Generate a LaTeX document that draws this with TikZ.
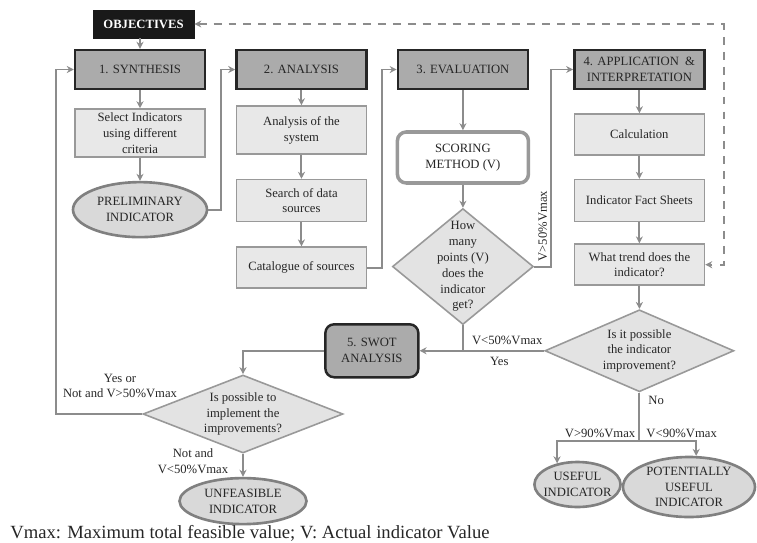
\documentclass[tikz,border=0pt]{standalone}
\usepackage{fontspec}
\setmainfont{Liberation Serif}
\usetikzlibrary{shapes.geometric, arrows.meta, positioning, calc}

\tikzset{
	every node/.style={font=\fontsize{7.2}{9}\selectfont, text=black!85},
	head/.style={draw=black!85, line width=1.4pt, fill=black!33,
		minimum width=2.6cm, minimum height=0.78cm, align=center, inner sep=1pt},
	stepbox/.style={draw=black!40, line width=0.9pt, fill=black!9,
		minimum width=2.6cm, minimum height=0.82cm, align=center, inner sep=1pt},
	result/.style={ellipse, draw=black!50, line width=1.5pt, fill=black!15,
		align=center, inner sep=0pt},
	decision/.style={diamond, draw=black!40, line width=0.9pt, fill=black!11, inner sep=0pt},
	dtext/.style={align=center, inner sep=0pt},
	lbl/.style={inner sep=1pt, align=center},
	arr/.style={draw=black!45, line width=1.1pt, -{Stealth[length=4pt,width=4pt]}},
	conn/.style={draw=black!45, line width=1.1pt},
	feedback/.style={draw=black!45, line width=1.1pt, dash pattern=on 4.5pt off 4pt,
		{Stealth[length=4pt,width=4pt]}-{Stealth[length=4pt,width=4pt]}},
}

\begin{document}
\begin{tikzpicture}
	\useasboundingbox (0,0) rectangle (15.14,-10.84);
	% phase headers
	\node[fill=black!90, draw=black!90, text=white,
	font=\fontsize{7.2}{9}\selectfont\bfseries,
	minimum width=2.02cm, minimum height=0.56cm] (obj) at (2.87,-0.48) {OBJECTIVES};
	\node[head] (synth) at (2.8,-1.39) {1. SYNTHESIS};
	\node[head, right=0.58cm of synth] (analysis) {2. ANALYSIS};
	\node[head, right=0.58cm of analysis] (evaluation) {3. EVALUATION};
	\node[head, right=0.88cm of evaluation] (app) {4. APPLICATION \ \&\\INTERPRETATION};
	
	% synthesis column
	\node[stepbox, below=0.36cm of synth, minimum height=0.96cm] (select) {Select Indicators\\using different\\criteria};
	\node[result, below=0.46cm of select,
	minimum width=2.68cm, minimum height=1.1cm] (prelim) {PRELIMINARY\\INDICATOR};
	
	% analysis column
	\node[stepbox, below=0.3cm of analysis, minimum height=0.96cm] (sysan) {Analysis of the\\system};
	\node[stepbox, below=0.48cm of sysan, minimum height=0.84cm] (search) {Search of data\\sources};
	\node[stepbox, below=0.48cm of search] (catalogue) {Catalogue of sources};
	
	% evaluation column
	\node[draw=black!40, line width=2pt, rounded corners=5pt, fill=white,
	minimum width=2.62cm, minimum height=1.02cm, align=center,
	below=0.8cm of evaluation] (scoring) {SCORING\\METHOD (V)};
	\node[decision, below=0.46cm of scoring,
	minimum width=2.82cm, minimum height=2.32cm] (dpoints) {};
	\node[dtext] (tpoints) at (dpoints) {How\\many\\points (V)\\does the\\indicator\\get?};
	
	% application column
	\node[stepbox, below=0.46cm of app] (calc) {Calculation};
	\node[stepbox, below=0.46cm of calc, minimum height=0.84cm] (facts) {Indicator Fact Sheets};
	\node[stepbox, below=0.42cm of facts] (trend) {What trend does the\\indicator?};
	\node[decision, below=0.46cm of trend,
	minimum width=3.78cm, minimum height=1.64cm] (dimprove) {};
	\node[dtext] (timprove) at (dimprove) {Is it possible\\the indicator\\improvement?};
	
	% swot branch
	\node[draw=black!85, line width=1.4pt, rounded corners=5pt, fill=black!33,
	minimum width=1.86cm, minimum height=1.06cm, align=center,
	left=2.49cm of dimprove] (swot) {5. SWOT\\ANALYSIS};
	\node[decision, minimum width=4cm, minimum height=1.56cm] (dimplement) at (4.86,-8.28) {};
	\node[dtext] (timplement) at (dimplement) {Is possible to\\implement the\\improvements?};
	\node[result, below=0.46cm of dimplement,
	minimum width=2.54cm, minimum height=0.92cm] (unfeasible) {UNFEASIBLE\\INDICATOR};
	
	% end results
	\coordinate[below=0.96cm of dimprove] (split);
	\node[result, inner xsep=-2pt, minimum width=1.62cm, minimum height=0.9cm] (useful) at (11.55,-9.69) {USEFUL\\INDICATOR};
	\node[result, minimum width=2.64cm, minimum height=1.2cm] (potential) at (13.78,-9.74) {POTENTIALLY\\USEFUL\\INDICATOR};
	
	% helper points
	\coordinate (mid12) at ($(synth.east)!.5!(analysis.west)$);
	\coordinate (mid23) at ($(analysis.east)!.5!(evaluation.west)$);
	\coordinate (mid34) at ($(evaluation.east)!.5!(app.west)$);
	\coordinate (join) at (dpoints.south |- swot.east);
	
	% Arrows
	\draw[arr] (obj.south -| synth.north) -- (synth.north);
	\draw[arr] (synth) -- (select);
	\draw[arr] (select) -- (prelim);
	\draw[arr] (prelim.east) -| (mid12) -- (analysis.west);
	\draw[arr] (analysis) -- (sysan);
	\draw[arr] (sysan) -- (search);
	\draw[arr] (search) -- (catalogue);
	\draw[arr] (catalogue.east) -| (mid23) -- (evaluation.west);
	\draw[arr] (evaluation) -- (scoring);
	\draw[arr] (scoring) -- (dpoints);
	\draw[arr] (dpoints.east) -| (mid34) -- (app.west);
	\draw[conn] (dpoints.south) -- (join);
	\draw[arr] (app) -- (calc);
	\draw[arr] (calc) -- (facts);
	\draw[arr] (facts) -- (trend);
	\draw[arr] (trend) -- (dimprove);
	\draw[arr] (dimprove.west) -- (swot.east);
	\draw[conn] (dimprove.south) -- (split);
	\draw[arr] (split) -| (useful.134);
	\draw[arr] (split) -| (potential.77);
	\draw[arr] (swot.west) -| (dimplement.north);
	\draw[arr] (dimplement.west) -| ([xshift=-0.36cm]synth.west) -- (synth.west);
	\draw[arr] (dimplement.south) -- (unfeasible.north);
	\draw[feedback] (obj.east) -| ([xshift=0.36cm]app.east) |- (trend.east);
	
	% labels
	\node[lbl, rotate=90, anchor=south west] (lhigh) at ($(mid34 |- dpoints.east)+(-0.04,0.06)$) {V>50\%Vmax};
	\node[lbl, above right=0.08cm and 0.14cm of join] (llow) {V<50\%Vmax};
	\node[lbl, below right=0.08cm and 0.5cm of join] (lyes) {Yes};
	\node[lbl, below right=0.04cm and 0.14cm of dimprove.south] (lno) {No};
	\node[lbl, above left=0.02cm and 0.04cm of split] (lgood) {V>90\%Vmax};
	\node[lbl, above right=0.02cm and 0.1cm of split] (lfair) {V<90\%Vmax};
	\node[lbl] (lretry) at (2.4,-7.72) {Yes or\\Not and V>50\%Vmax};
	\node[lbl] (lstop) at (3.86,-9.22) {Not and\\V<50\%Vmax};
	\node[anchor=base west, inner sep=0pt, font=\fontsize{10.6}{12}\selectfont] (note) at (0.2,-10.76) {Vmax: Maximum total feasible value; V: Actual indicator Value};
\end{tikzpicture}
\end{document}
